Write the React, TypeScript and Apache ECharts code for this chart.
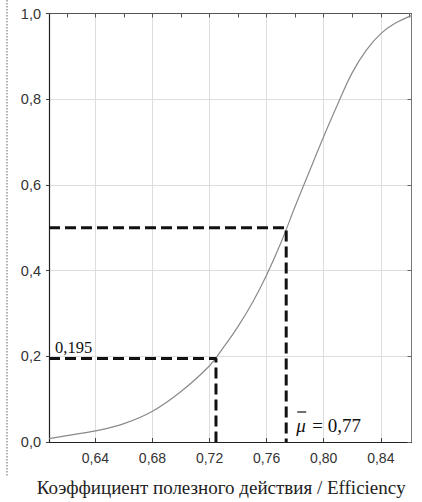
import React, { useEffect, useRef } from "react";
import * as echarts from "echarts";

// Efficiency values (x) and cumulative probability (y)
const effX = [0.6075, 0.62, 0.64, 0.66, 0.68, 0.70, 0.72, 0.73, 0.74, 0.75, 0.76, 0.77, 0.78, 0.79, 0.80, 0.81, 0.82, 0.83, 0.84, 0.85, 0.8615];
const probY = [0.008, 0.015, 0.026, 0.043, 0.072, 0.118, 0.178, 0.222, 0.27, 0.325, 0.39, 0.465, 0.55, 0.632, 0.713, 0.79, 0.862, 0.915, 0.953, 0.977, 0.995];

const xMin = 0.6075;
const xMax = 0.8615;
const xTickLabels = [0.64, 0.68, 0.72, 0.76, 0.80, 0.84];
const xMinorTicks = [0.62, 0.64, 0.66, 0.68, 0.70, 0.72, 0.74, 0.76, 0.78, 0.80, 0.82, 0.84, 0.86];

// Dashed guide at p = 0.195
const guide195X = [xMin, 0.7245, 0.7245];
const guide195Y = [0.195, 0.195, 0];
// Dashed guide at mean (p = 0.5)
const guideMeanX = [xMin, 0.7737, 0.7737];
const guideMeanY = [0.5, 0.5, 0];

const label195 = "0,195";
const meanSymbol = "μ";
const meanText = "= 0,77";
const xAxisTitle = "Коэффициент полезного действия / Efficiency";

const fmt = (v: number, d: number) => v.toFixed(d).replace(".", ",");

export default function App() {
  const ref = useRef<HTMLDivElement>(null);
  useEffect(() => {
    if (!ref.current) return;
    const chart = echarts.init(ref.current, null, { renderer: "svg" });
    const sans = "Liberation Sans";
    const serif = "Liberation Serif";
    const dashStyle = { color: "#111", width: 3, type: [11, 5] as any };
    chart.setOption({
      animation: false,
      backgroundColor: "#fff",
      grid: { left: 49, right: 10.5, top: 13.5, bottom: 60, containLabel: false },
      xAxis: [
        {
          type: "value",
          min: xMin,
          max: xMax,
          position: "bottom",
          axisLine: { show: true, onZero: false, lineStyle: { color: "#222", width: 1.2 } },
          axisTick: { show: true, inside: true, length: 4, customValues: xTickLabels, lineStyle: { color: "#444" } },
          axisLabel: {
            customValues: xTickLabels,
            formatter: (v: number) => fmt(v, 2),
            fontFamily: sans,
            fontSize: 14,
            color: "#333",
            margin: 9,
          },
          splitLine: { show: true, lineStyle: { color: "#ddd", width: 1 } },
        },
        {
          type: "value",
          min: xMin,
          max: xMax,
          position: "top",
          axisLine: { show: true, onZero: false, lineStyle: { color: "#555", width: 1 } },
          axisTick: { show: true, inside: true, length: 4, customValues: xMinorTicks, lineStyle: { color: "#555" } },
          axisLabel: { show: false },
          splitLine: { show: false },
        },
      ],
      yAxis: [
        {
          type: "value",
          min: 0,
          max: 1,
          interval: 0.2,
          position: "left",
          axisLine: { show: true, onZero: false, lineStyle: { color: "#222", width: 1.2 } },
          axisTick: { show: true, inside: false, length: 3, lineStyle: { color: "#444" } },
          axisLabel: {
            formatter: (v: number) => fmt(v, 1),
            fontFamily: sans,
            fontSize: 14.5,
            color: "#333",
            margin: 8,
          },
          splitLine: { show: true, lineStyle: { color: "#ddd", width: 1 } },
        },
        {
          type: "value",
          min: 0,
          max: 1,
          interval: 0.2,
          position: "right",
          axisLine: { show: true, onZero: false, lineStyle: { color: "#777", width: 1 } },
          axisTick: { show: true, inside: true, length: 4, lineStyle: { color: "#666" } },
          axisLabel: { show: false },
          splitLine: { show: false },
        },
      ],
      series: [
        {
          type: "line",
          data: effX.map((x, i) => [x, probY[i]]),
          showSymbol: false,
          smooth: 0.4,
          lineStyle: { color: "#8a8a8a", width: 1.2 },
          z: 3,
        },
        {
          type: "line",
          data: guide195X.map((x, i) => [x, guide195Y[i]]),
          showSymbol: false,
          lineStyle: dashStyle,
          z: 4,
        },
        {
          type: "line",
          data: guideMeanX.map((x, i) => [x, guideMeanY[i]]),
          showSymbol: false,
          lineStyle: dashStyle,
          z: 4,
        },
      ],
    });

    // Annotations anchored to data points through the chart's own scales
    const p195 = chart.convertToPixel({ gridIndex: 0 }, [guide195X[0], guide195Y[0]]) as number[];
    const pMean = chart.convertToPixel({ gridIndex: 0 }, [guideMeanX[2], guideMeanY[2]]) as number[];
    const gLeft = chart.convertToPixel({ gridIndex: 0 }, [xMin, 0]) as number[];
    const gRight = chart.convertToPixel({ gridIndex: 0 }, [xMax, 0]) as number[];
    const titleX = (gLeft[0] + gRight[0]) / 2 - 9;

    chart.setOption({
      graphic: [
        {
          type: "line",
          shape: { x1: 7, y1: 0, x2: 7, y2: 477 },
          style: { stroke: "#999", lineWidth: 1.5, lineDash: [1.5, 1.5] },
          silent: true,
        },
        {
          type: "text",
          x: p195[0] + 6,
          y: p195[1] - 11,
          style: { text: label195, fontFamily: serif, fontSize: 16.5, fill: "#111", verticalAlign: "middle" },
          z: 10,
        },
        {
          type: "text",
          x: pMean[0] + 10,
          y: pMean[1] - 17,
          style: { text: meanSymbol, fontFamily: serif, fontStyle: "italic", fontSize: 19, fill: "#111", verticalAlign: "middle" },
          z: 10,
        },
        {
          type: "line",
          shape: { x1: pMean[0] + 11, y1: pMean[1] - 30, x2: pMean[0] + 20, y2: pMean[1] - 30 },
          style: { stroke: "#111", lineWidth: 1.2 },
          z: 10,
        },
        {
          type: "text",
          x: pMean[0] + 26,
          y: pMean[1] - 17,
          style: { text: meanText, fontFamily: serif, fontSize: 19, fill: "#111", verticalAlign: "middle" },
          z: 10,
        },
        {
          type: "text",
          x: titleX,
          y: gLeft[1] + 45,
          style: { text: xAxisTitle, fontFamily: serif, fontSize: 19, fill: "#222", align: "center", verticalAlign: "middle" },
          z: 10,
        },
      ],
    });
    return () => chart.dispose();
  }, []);
  return (
    <div
      ref={ref}
      style={{ position: "fixed", left: 0, top: 0, width: 422, height: 502 }}
    />
  );
}
